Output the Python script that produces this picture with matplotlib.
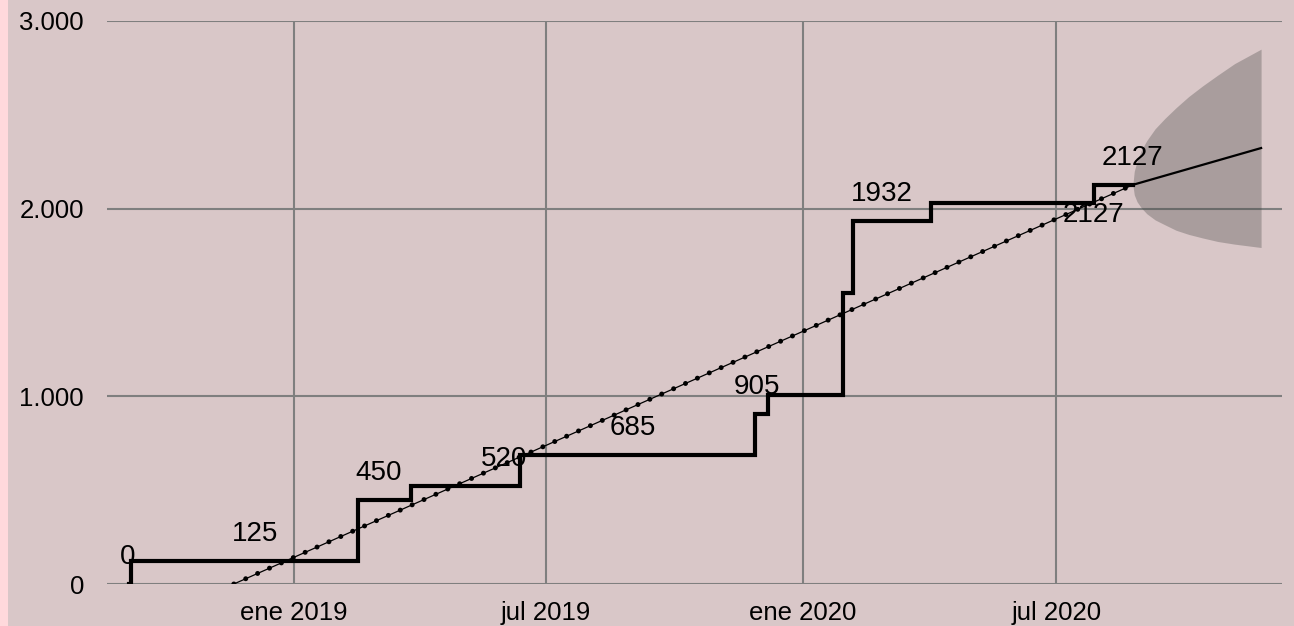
import matplotlib
matplotlib.use("Agg")
import matplotlib.pyplot as plt
import matplotlib.dates as mdates
from matplotlib.patches import Rectangle
import numpy as np
import pandas as pd

plt.rcParams['font.family'] = ['Liberation Sans', 'DejaVu Sans']

# ---- data ----
step_dates = ["2018-09-05", "2018-09-06", "2019-02-16", "2019-03-26", "2019-06-12",
              "2019-11-28", "2019-12-07", "2020-01-30", "2020-02-06", "2020-04-02",
              "2020-07-28", "2020-08-25"]
step_values = [0, 125, 450, 520, 685, 905, 1005, 1550, 1932, 2030, 2127, 2127]

trend_dates = ["2018-11-19", "2020-08-25"]
trend_values = [0, 2127]

forecast_dates = ["2020-08-25", "2020-11-25"]
forecast_values = [2127, 2323]

band_dates = ["2020-08-25", "2020-08-26", "2020-08-28", "2020-08-31", "2020-09-04",
              "2020-09-10", "2020-09-17", "2020-09-25", "2020-10-04", "2020-10-14",
              "2020-10-25", "2020-11-06", "2020-11-25"]
band_lower = [2127, 2074, 2037, 2005, 1973, 1940, 1914, 1885, 1863, 1844, 1825, 1811, 1793]
band_upper = [2127, 2199, 2253, 2310, 2363, 2426, 2481, 2538, 2597, 2654, 2712, 2773, 2850]

label_dates = ["2018-09-04", "2018-12-04", "2019-03-03", "2019-06-01", "2019-09-01",
               "2019-11-29", "2020-02-27", "2020-08-25", "2020-07-28"]
label_values = [0, 125, 450, 520, 685, 905, 1932, 2127, 2127]
label_texts = ["0", "125", "450", "520", "685", "905", "1932", "2127", "2127"]
label_below = [False, False, False, False, False, False, False, False, True]

xtick_dates = ["2019-01-01", "2019-07-01", "2020-01-01", "2020-07-01"]
xtick_labels = ["ene 2019", "jul 2019", "ene 2020", "jul 2020"]
ytick_values = [0, 1000, 2000, 3000]
ytick_labels = ["0", "1.000", "2.000", "3.000"]

# ---- figure ----
W, H = 1294, 626
fig = plt.figure(figsize=(W / 100, H / 100), dpi=100)
bg = "#D9C7C8"
fig.patch.set_facecolor(bg)
fig.patches.append(Rectangle((0, 0), 8 / W, 1, transform=fig.transFigure,
                             facecolor="#FFD9DC", edgecolor="none", zorder=0))

ax = fig.add_axes([107 / W, 1 - 584 / H, (1282 - 107) / W, (584 - 21) / H])
ax.set_facecolor(bg)

td = lambda l: pd.to_datetime(l)

# band
ax.fill_between(td(band_dates), band_lower, band_upper, color="#3C3E3C",
                alpha=0.30, linewidth=0, zorder=2)

# trend (thin line + dots)
ax.plot(td(trend_dates), trend_values, color="black", lw=0.9, zorder=3)
ax.plot(td(trend_dates), trend_values, color="black", lw=3.6,
        linestyle=(0, (0.001, 2.6)), dash_capstyle="round", zorder=3)

# forecast line
ax.plot(td(forecast_dates), forecast_values, color="black", lw=1.6, zorder=3)

# step line
ax.plot(td(step_dates), step_values, color="black", lw=3.0,
        drawstyle="steps-post", solid_joinstyle="miter", zorder=4)

# labels
for d, v, t, below in zip(label_dates, label_values, label_texts, label_below):
    ax.annotate(t, (td(d), v), xytext=(0, -30 if below else 27),
                textcoords="offset pixels", ha="center", va="center",
                fontsize=20, color="black", zorder=5)

# axes
ax.set_xlim(pd.Timestamp("2018-08-20"), pd.Timestamp("2020-12-10"))
ax.set_ylim(0, 3000)
ax.set_xticks(td(xtick_dates))
ax.set_xticklabels(xtick_labels)
ax.set_yticks(ytick_values)
ax.set_yticklabels(ytick_labels)
ax.tick_params(axis="both", length=0, labelsize=18.5, colors="black")
ax.tick_params(axis="y", pad=16.5)
ax.tick_params(axis="x", pad=12)
ax.grid(True, color="#7F7F7F", lw=1.5)
ax.set_axisbelow(True)
for s in ax.spines.values():
    s.set_visible(False)

fig.savefig("out.png", dpi=100, facecolor=fig.get_facecolor())
